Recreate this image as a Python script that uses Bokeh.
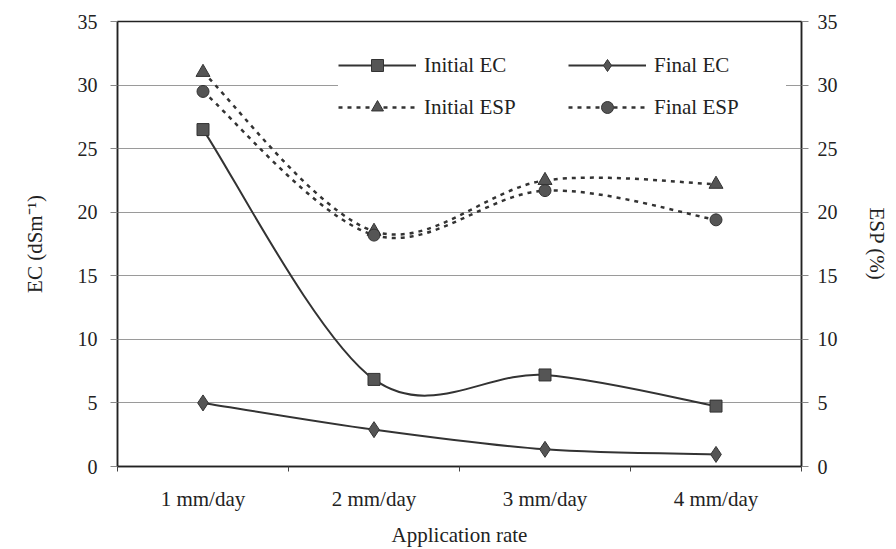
import numpy as np
from bokeh.plotting import figure
from bokeh.models import Range1d, LinearAxis, FixedTicker, Legend, LegendItem, ColumnDataSource
from bokeh.embed import file_html
from bokeh.resources import INLINE

categories = ["1 mm/day", "2 mm/day", "3 mm/day", "4 mm/day"]
initial_ec = [26.5, 6.85, 7.2, 4.75]
final_ec = [5.0, 2.9, 1.35, 0.95]
initial_esp = [31.0, 18.5, 22.5, 22.2]
final_esp = [29.5, 18.2, 21.7, 19.4]
ec_ticks = [0, 5, 10, 15, 20, 25, 30, 35]
esp_ticks = [0, 5, 10, 15, 20, 25, 30, 35]

FONT = "Liberation Serif"
TXT = "#222222"
LINE = "#333333"
MARK = "#555555"

xs = np.arange(len(categories)) + 0.5


def smooth_source(x, y):
    """Bezier control points (Catmull-Rom style smoothing, as in spreadsheet 'smoothed line')."""
    x = np.asarray(x, float)
    y = np.asarray(y, float)
    n = len(x)
    d = dict(x0=[], y0=[], x1=[], y1=[], cx0=[], cy0=[], cx1=[], cy1=[])
    for i in range(n - 1):
        pm = i - 1 if i > 0 else i
        pp = i + 2 if i + 2 < n else i + 1
        d["x0"].append(x[i]); d["y0"].append(y[i])
        d["x1"].append(x[i + 1]); d["y1"].append(y[i + 1])
        d["cx0"].append(x[i] + (x[i + 1] - x[pm]) / 6)
        d["cy0"].append(y[i] + (y[i + 1] - y[pm]) / 6)
        d["cx1"].append(x[i + 1] - (x[pp] - x[i]) / 6)
        d["cy1"].append(y[i + 1] - (y[pp] - y[i]) / 6)
    return ColumnDataSource(d)


p = figure(width=896, height=549, output_backend="svg", toolbar_location=None,
           x_range=Range1d(0, len(categories)), y_range=Range1d(0, 35),
           min_border_left=117, min_border_right=95, min_border_top=21, min_border_bottom=83,
           background_fill_color="white", border_fill_color="white")
p.extra_y_ranges = {"esp": Range1d(0, 35)}
p.outline_line_color = "#222222"
p.outline_line_width = 1.5

# axes
p.xaxis.ticker = FixedTicker(ticks=list(xs), minor_ticks=list(range(len(categories) + 1)))
p.xaxis.major_label_overrides = {float(v): c for v, c in zip(xs, categories)}
p.xaxis.major_tick_out = 0
p.xaxis.major_tick_in = 0
p.xaxis.minor_tick_out = 5
p.xaxis.minor_tick_in = 0
p.xaxis.minor_tick_line_color = "#444444"
p.xaxis.axis_label = "Application rate"

p.yaxis.ticker = FixedTicker(ticks=ec_ticks)
p.yaxis.axis_label = "EC (dSm\u207b\u00b9)"
p.yaxis.minor_tick_line_color = None
p.yaxis.major_tick_out = 7
p.yaxis.major_tick_in = 0

right = LinearAxis(y_range_name="esp", ticker=FixedTicker(ticks=esp_ticks), axis_label="ESP (%)")
right.minor_tick_line_color = None
right.major_tick_out = 7
right.major_tick_in = 0
p.add_layout(right, "right")

for ax in [p.xaxis[0], p.yaxis[0], right]:
    ax.axis_line_color = "#222222"
    ax.axis_line_width = 1.5
    ax.major_tick_line_color = "#888888"
    ax.major_label_text_font = FONT
    ax.major_label_text_font_size = "20px"
    ax.major_label_text_color = TXT
    ax.axis_label_text_font = FONT
    ax.axis_label_text_font_size = "21px"
    ax.axis_label_text_font_style = "normal"
    ax.axis_label_text_color = TXT
p.xaxis.major_tick_line_color = None
p.xaxis.major_label_text_font_size = "21px"

p.yaxis.major_label_standoff = 13
right.major_label_standoff = 9
p.yaxis.axis_label_standoff = 28
right.axis_label_standoff = 24
p.xaxis.major_label_standoff = 15
p.xaxis.axis_label_standoff = 9

p.xgrid.grid_line_color = None
p.ygrid.ticker = FixedTicker(ticks=ec_ticks)
p.ygrid.grid_line_color = "#9a9a9a"
p.ygrid.grid_line_width = 1


# series
def series(y, marker, size, dash, rng):
    src = smooth_source(xs, y)
    kw = {} if rng is None else {"y_range_name": rng}
    lw = 2 if dash == "solid" else 2.5
    b = p.bezier(x0="x0", y0="y0", x1="x1", y1="y1", cx0="cx0", cy0="cy0",
                 cx1="cx1", cy1="cy1", source=src, line_color=LINE,
                 line_width=lw, line_dash=dash, **kw)
    s = p.scatter(x=xs, y=y, marker=marker, size=size, fill_color=MARK,
                  line_color=LINE, line_width=1, **kw)
    return [b, s]


r_iec = series(initial_ec, "square", 12, "solid", None)
r_fec = series(final_ec, "diamond", 16, "solid", None)
r_iesp = series(initial_esp, "triangle", 14, "4 5", "esp")
r_fesp = series(final_esp, "circle", 12, "4 5", "esp")

legend = Legend(items=[
    LegendItem(label="Initial EC", renderers=r_iec, index=0),
    LegendItem(label="Final EC", renderers=r_fec, index=0),
    LegendItem(label="Initial ESP", renderers=r_iesp, index=0),
    LegendItem(label="Final ESP", renderers=r_fesp, index=0),
], orientation="horizontal", ncols=2, location=(221, 344))
legend.glyph_width = 78
legend.glyph_height = 30
legend.label_height = 30
legend.label_width = 132
legend.label_standoff = 8
legend.spacing = 12
legend.padding = 25
legend.margin = 0
legend.border_line_color = None
legend.background_fill_color = "white"
legend.background_fill_alpha = 1
legend.label_text_font = FONT
legend.label_text_font_size = "21px"
legend.label_text_color = TXT
p.add_layout(legend, "center")

open("out.html", "w").write(file_html(p, INLINE))
